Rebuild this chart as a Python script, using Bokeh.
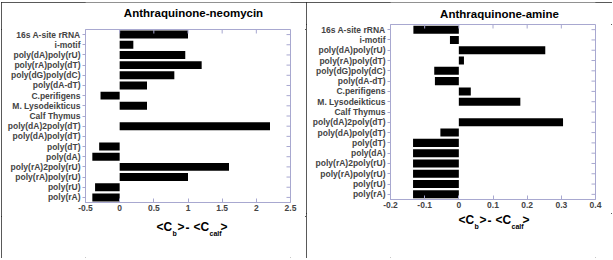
from bokeh.plotting import figure
from bokeh.models import Range1d, FixedTicker
from bokeh.layouts import row, column
from bokeh.core.properties import value
from bokeh.embed import file_html
from bokeh.resources import INLINE

categories = ["16s A-site rRNA", "i-motif", "poly(dA)poly(rU)", "poly(rA)poly(dT)",
              "poly(dG)poly(dC)", "poly(dA-dT)", "C.perifigens", "M. Lysodeikticus",
              "Calf Thymus", "poly(dA)2poly(dT)", "poly(dA)poly(dT)", "poly(dT)",
              "poly(dA)", "poly(rA)2poly(rU)", "poly(rA)poly(rU)", "poly(rU)", "poly(rA)"]
neomycin = [1.0, 0.2, 0.96, 1.2, 0.8, 0.4, -0.28, 0.4, 0.0, 2.2, 0.0,
            -0.3, -0.4, 1.6, 1.0, -0.36, -0.4]
amine = [-0.133, -0.026, 0.253, 0.015, -0.072, -0.07, 0.035, 0.18, 0.0, 0.305, -0.054,
         -0.134, -0.134, -0.134, -0.134, -0.134, -0.134]
neo_ticks = [-0.5, 0, 0.5, 1, 1.5, 2, 2.5]
neo_tick_labels = ["-0.5", "0", "0.5", "1", "1.5", "2", "2.5"]
amine_ticks = [-0.2, -0.1, 0, 0.1, 0.2, 0.3, 0.4]
amine_tick_labels = ["-0.2", "-0.1", "0", "0.1", "0.2", "0.3", "0.4"]
titles = ["Anthraquinone-neomycin", "Anthraquinone-amine"]
xlabel_main = ["<C", ">", "-", "<C", ">"]
xlabel_sub = ["b", "calf"]

FONT = "Liberation Sans"
FRAME = "#a8a8d0"
FRAME_W = 205


def strip(width, height, bl, br):
    # a text strip whose frame lines up with the chart frame; x and y in panel pixels
    s = figure(width=width, height=height, output_backend="svg", toolbar_location=None,
               x_range=Range1d(bl, bl + FRAME_W), y_range=Range1d(height, 0),
               x_axis_type=None, y_axis_type=None, min_border_left=bl,
               min_border_right=br, min_border_top=0, min_border_bottom=0)
    s.grid.visible = False
    s.outline_line_color = None
    return s


def panel(title, vals, ticks, tick_labels, width, title_h, chart_h, label_h, bl, bb,
          title_x, title_y, lab_x0, lab_y):
    n = len(categories)
    ypos = [n - 1 - i for i in range(n)]
    br = width - bl - FRAME_W

    t = strip(width, title_h, bl, br)
    t.text(x=[title_x], y=[title_y], text=[title], text_font=value(FONT),
           text_font_style="bold", text_font_size="11.5px", text_baseline="middle",
           text_align="center", text_color="black")

    p = figure(width=width, height=chart_h, output_backend="svg", toolbar_location=None,
               x_range=Range1d(ticks[0], ticks[-1]), y_range=Range1d(-0.5, n - 0.5),
               min_border_left=bl, min_border_right=br, min_border_top=0,
               min_border_bottom=bb)
    p.grid.visible = False
    p.outline_line_color = FRAME
    p.outline_line_width = 1
    p.hbar(y=ypos, right=vals, left=0, height=0.78, fill_color="black", line_color=None)

    xa = p.xaxis[0]
    xa.ticker = FixedTicker(ticks=ticks)
    xa.major_label_overrides = {v: s for v, s in zip(ticks, tick_labels)}
    xa.minor_tick_line_color = None
    xa.major_tick_in = 4
    xa.major_tick_out = 0
    xa.axis_line_color = FRAME
    xa.major_tick_line_color = FRAME
    xa.major_label_text_font = FONT
    xa.major_label_text_font_style = "bold"
    xa.major_label_text_font_size = "8.5px"
    xa.major_label_standoff = 2

    ya = p.yaxis[0]
    ya.ticker = FixedTicker(ticks=ypos)
    ya.major_label_overrides = {y: c for y, c in zip(ypos, categories)}
    ya.minor_tick_line_color = None
    ya.major_tick_in = 0
    ya.major_tick_out = 3
    ya.axis_line_color = FRAME
    ya.major_tick_line_color = FRAME
    ya.major_label_text_font = FONT
    ya.major_label_text_font_style = "bold"
    ya.major_label_text_font_size = "8.5px"
    ya.major_label_standoff = 2

    # inward mirror ticks on the top and right edges of the frame
    frame_h = chart_h - bb
    dy = 4 * n / frame_h
    dx = 4 * (ticks[-1] - ticks[0]) / FRAME_W
    top = n - 0.5
    p.segment(x0=ticks, x1=ticks, y0=[top] * len(ticks), y1=[top - dy] * len(ticks),
              line_color=FRAME, line_width=1)
    p.segment(x0=[ticks[-1]] * n, x1=[ticks[-1] - dx] * n, y0=ypos, y1=ypos,
              line_color=FRAME, line_width=1)

    # x axis label  <C_b> - <C_calf>
    q = strip(width, label_h, bl, br)
    main_dx = [0, 21, 29, 37, 64]
    sub_dx = [16, 53]
    q.text(x=[lab_x0 + d for d in main_dx], y=[lab_y] * len(xlabel_main), text=xlabel_main,
           text_font=value(FONT), text_font_style="bold", text_font_size="12px",
           text_baseline="middle", text_align="left", text_color="black")
    q.text(x=[lab_x0 + d for d in sub_dx], y=[lab_y + 6] * len(xlabel_sub), text=xlabel_sub,
           text_font=value(FONT), text_font_style="bold", text_font_size="7px",
           text_baseline="middle", text_align="left", text_color="black")
    col = column(t, p, q, spacing=0)
    col.styles = {"outline": "1px solid #222", "outline-offset": "-1px"}
    return col


left = panel(titles[0], neomycin, neo_ticks, neo_tick_labels, 305, 27, 187, 42, 84, 14,
             192, 10.7, 155, 10.7)
right = panel(titles[1], amine, amine_ticks, amine_tick_labels, 306, 22, 189, 45, 84, 14,
              193, 11, 152, 6.5)
layout = row(left, right, spacing=0)
layout.styles = {"margin-top": "2px", "margin-left": "1px"}
open("out.html", "w").write(file_html(layout, INLINE))
